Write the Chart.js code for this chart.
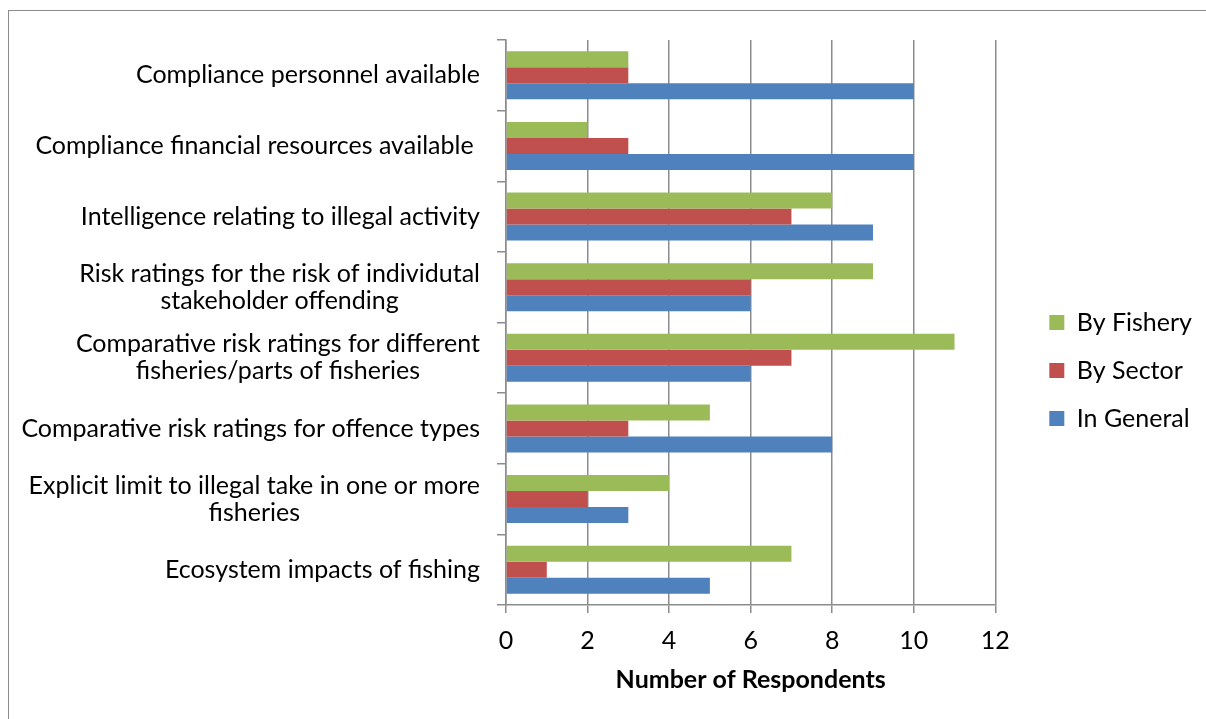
<!DOCTYPE html>
<html lang="en">
<head>
  <meta charset="UTF-8" />
  <title>Compliance information by respondents</title>
  <script src="https://cdn.jsdelivr.net/npm/chart.js"></script>
  <style>
    body { margin: 0; background: #fff; overflow: hidden; }
    #frame {
      position: absolute; left: 8px; top: 10px;
      width: 1300px; height: 800px;
      border: 1px solid #8c8c8c;
    }
    #chart { position: absolute; left: 0; top: 0; }
  </style>
</head>
<body>
  <div id="frame"></div>
  <canvas id="chart" width="1206" height="719"></canvas>

  <script>
    // categories, top to bottom (line breaks as in the original chart)
    const categories = [
      ['Compliance personnel available'],
      ['Compliance financial resources available '],
      ['Intelligence relating to illegal activity'],
      ['Risk ratings for the risk of individutal', 'stakeholder offending'],
      ['Comparative risk ratings for different', 'fisheries/parts of fisheries'],
      ['Comparative risk ratings for offence types'],
      ['Explicit limit to illegal take in one or more', 'fisheries'],
      ['Ecosystem impacts of fishing']
    ];
    const byFishery = [3, 2, 8, 9, 11, 5, 4, 7];
    const bySector  = [3, 3, 7, 6, 7, 3, 2, 1];
    const inGeneral = [10, 10, 9, 6, 6, 8, 3, 5];
    const xTicks = [0, 2, 4, 6, 8, 10, 12];

    const FONT = 'Lato, "Open Sans", sans-serif';
    const SIZE = 25;
    const GRID = '#8c8c8c';

    // centred multi-line category labels, right-aligned as a block
    const categoryLabels = {
      id: 'categoryLabels',
      afterDraw(chart) {
        const ctx = chart.ctx;
        const y = chart.scales.y;
        const right = y.right - 26;
        ctx.save();
        ctx.font = SIZE + 'px ' + FONT;
        ctx.fillStyle = '#000';
        ctx.textAlign = 'center';
        ctx.textBaseline = 'middle';
        categories.forEach((lines, i) => {
          const w = Math.max(...lines.map(l => ctx.measureText(l).width));
          const cx = right - w / 2;
          const cy = y.getPixelForValue(i);
          lines.forEach((l, j) => {
            ctx.fillText(l, cx, cy + (j - (lines.length - 1) / 2) * 27);
          });
        });
        ctx.restore();
      }
    };

    new Chart(document.getElementById('chart'), {
      type: 'bar',
      data: {
        labels: categories.map(c => c.join(' ')),
        datasets: [
          { label: 'By Fishery', data: byFishery, backgroundColor: '#9BBB59' },
          { label: 'By Sector', data: bySector, backgroundColor: '#C0504D' },
          { label: 'In General', data: inGeneral, backgroundColor: '#4F81BD' }
        ]
      },
      options: {
        indexAxis: 'y',
        responsive: false,
        animation: false,
        layout: { padding: { top: 40, left: 0, right: 4, bottom: 18 } },
        datasets: { bar: { categoryPercentage: 0.68, barPercentage: 1.0 } },
        scales: {
          x: {
            min: 0, max: 12,
            afterBuildTicks: s => { s.ticks = xTicks.map(v => ({ value: v })); },
            grid: { color: GRID, lineWidth: 1.5, tickLength: 8 },
            border: { color: GRID, width: 1.5 },
            ticks: { color: '#000', font: { family: FONT, size: SIZE }, padding: 13 },
            title: {
              display: true, text: 'Number of Respondents', color: '#000',
              font: { family: FONT, size: SIZE, weight: 'bold' },
              padding: { top: 4, bottom: 6 }
            },
            afterFit: s => { s.height = 719 - 18 - 605; }
          },
          y: {
            grid: { offset: true, drawOnChartArea: false, color: GRID, lineWidth: 1.5, tickLength: 9 },
            border: { color: GRID, width: 1.5 },
            ticks: { display: false },
            afterFit: s => { s.width = 506; }
          },
          spacer: {
            axis: 'y', position: 'right', type: 'category',
            grid: { display: false }, border: { display: false },
            ticks: { display: false },
            afterFit: s => { s.width = 31; }
          }
        },
        plugins: {
          legend: {
            position: 'right',
            labels: {
              color: '#000', font: { family: FONT, size: SIZE },
              boxWidth: 15, boxHeight: 15, padding: 23
            }
          },
          tooltip: { enabled: false }
        }
      },
      plugins: [categoryLabels]
    });
  </script>
</body>
</html>
